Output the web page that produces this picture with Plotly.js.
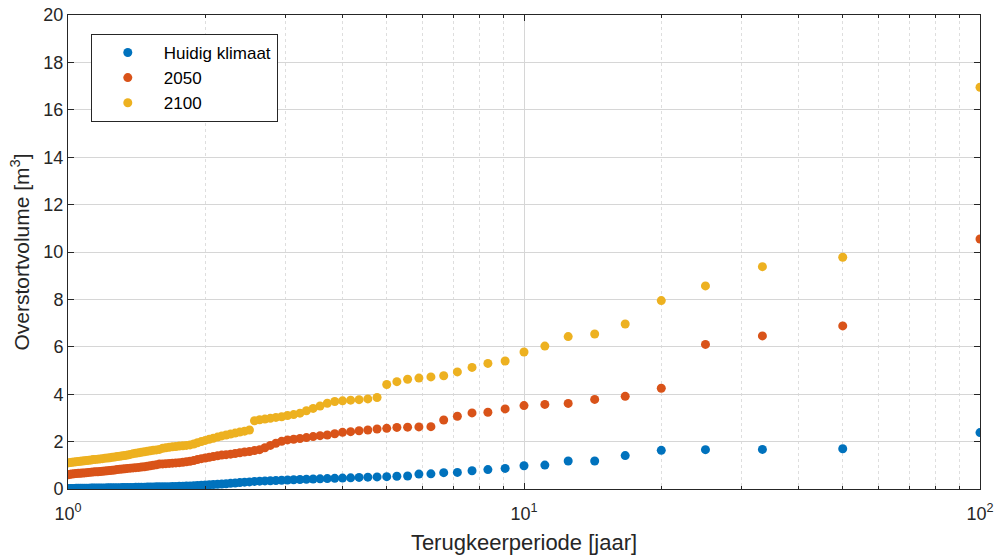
<!DOCTYPE html>
<html>
<head>
<meta charset="utf-8">
<script src="https://cdn.plot.ly/plotly-3.0.1.min.js"></script>
<style>html,body{margin:0;padding:0;background:#fff}#chart{width:996px;height:559px}</style>
</head>
<body>
<div id="chart"></div>
<script>
// Return period T = 100 / rank (rank 1..100), years
const returnPeriod = [100,50,33.33,25,20,16.67,14.29,12.5,11.11,10,
9.091,8.333,7.692,7.143,6.667,6.25,5.882,5.556,5.263,5,
4.762,4.545,4.348,4.167,4,3.846,3.704,3.571,3.448,3.333,
3.226,3.125,3.030,2.941,2.857,2.778,2.703,2.632,2.564,2.5,
2.439,2.381,2.326,2.273,2.222,2.174,2.128,2.083,2.041,2,
1.961,1.923,1.887,1.852,1.818,1.786,1.754,1.724,1.695,1.667,
1.639,1.613,1.587,1.5625,1.538,1.515,1.493,1.471,1.449,1.429,
1.408,1.389,1.370,1.351,1.333,1.316,1.299,1.282,1.266,1.25,
1.235,1.220,1.205,1.190,1.176,1.163,1.149,1.136,1.124,1.111,
1.099,1.087,1.075,1.064,1.053,1.042,1.031,1.020,1.010,1];

const huidig = [2.38,1.70,1.67,1.66,1.63,1.41,1.18,1.18,1.01,0.98,
0.87,0.82,0.77,0.70,0.69,0.64,0.63,0.55,0.54,0.52,
0.51,0.50,0.49,0.47,0.46,0.45,0.44,0.43,0.42,0.41,
0.40,0.39,0.38,0.37,0.36,0.35,0.34,0.33,0.32,0.30,
0.29,0.27,0.25,0.24,0.22,0.21,0.20,0.19,0.18,0.17,
0.16,0.15,0.14,0.13,0.13,0.12,0.12,0.11,0.11,0.10,
0.10,0.09,0.09,0.09,0.08,0.08,0.08,0.07,0.07,0.07,
0.07,0.06,0.06,0.06,0.06,0.06,0.05,0.05,0.05,0.05,
0.05,0.05,0.04,0.04,0.04,0.04,0.04,0.04,0.04,0.03,
0.03,0.03,0.03,0.03,0.03,0.03,0.02,0.02,0.02,0.02];

const klimaat2050 = [10.55,6.88,6.46,6.10,4.25,3.91,3.78,3.61,3.57,3.52,
3.38,3.24,3.21,3.07,2.91,2.63,2.62,2.61,2.60,2.56,
2.53,2.49,2.46,2.42,2.39,2.33,2.28,2.25,2.21,2.17,
2.13,2.10,2.07,2.01,1.93,1.84,1.74,1.66,1.62,1.58,
1.56,1.53,1.50,1.47,1.45,1.43,1.40,1.37,1.34,1.31,
1.28,1.24,1.20,1.17,1.15,1.13,1.11,1.10,1.09,1.08,
1.07,1.06,1.05,1.02,1.00,0.98,0.96,0.94,0.93,0.91,
0.90,0.89,0.88,0.87,0.85,0.84,0.83,0.82,0.80,0.79,
0.78,0.77,0.76,0.75,0.74,0.73,0.73,0.72,0.71,0.70,
0.69,0.68,0.67,0.66,0.66,0.65,0.64,0.63,0.62,0.60];

const klimaat2100 = [16.95,9.78,9.38,8.57,7.95,6.96,6.54,6.43,6.03,5.78,
5.40,5.30,5.13,4.94,4.78,4.73,4.68,4.63,4.53,4.41,
3.86,3.80,3.77,3.75,3.72,3.69,3.62,3.50,3.40,3.30,
3.20,3.14,3.10,3.05,3.02,2.98,2.95,2.92,2.88,2.49,
2.44,2.40,2.36,2.32,2.28,2.24,2.19,2.14,2.10,2.05,
2.00,1.95,1.90,1.86,1.84,1.82,1.81,1.79,1.78,1.76,
1.74,1.72,1.67,1.65,1.63,1.61,1.59,1.57,1.55,1.53,
1.51,1.49,1.46,1.43,1.41,1.40,1.38,1.37,1.35,1.34,
1.32,1.31,1.30,1.28,1.27,1.26,1.25,1.24,1.22,1.21,
1.20,1.19,1.18,1.17,1.16,1.15,1.14,1.13,1.12,1.10];

const seriesNames = ['Huidig klimaat','2050','2100'];
const seriesColors = ['#0072BD','#D95319','#EDB120'];
const xTickVals = [1,10,100];
const xTickText = ['10<sup>0</sup>','10<sup>1</sup>','10<sup>2</sup>'];
const yTickVals = [0,2,4,6,8,10,12,14,16,18,20];

const allSeries = [huidig, klimaat2050, klimaat2100];
const traces = allSeries.map((vals,i)=>({
  type:'scatter', mode:'markers', x:returnPeriod, y:vals, name:seriesNames[i],
  legendgroup:'g'+i,
  marker:{color:seriesColors[i], size:9, line:{width:0}}
}));

const FAM = 'Liberation Sans, Arial, sans-serif';
const axisFont = {family:FAM, size:18, color:'#262626'};
const titleFont = {family:FAM, size:22, color:'#262626'};
const layout = {
  width:996, height:559,
  margin:{l:68, r:16, t:15, b:70},
  paper_bgcolor:'#fff', plot_bgcolor:'#fff',
  showlegend:true,
  legend:{x:0.025, y:0.96, xanchor:'left', yanchor:'top',
    bgcolor:'#fff', bordercolor:'#262626', borderwidth:1,
    font:{family:FAM, size:17, color:'#000'},
    tracegroupgap:0, itemwidth:62},
  xaxis:{type:'log', range:[0,2], tickvals:xTickVals, ticktext:xTickText,
    tickfont:axisFont, ticks:'inside', ticklen:6, tickcolor:'#262626',
    ticklabelstandoff:8,
    showline:true, linecolor:'#262626', linewidth:1, mirror:'allticks',
    showgrid:true, gridcolor:'#d6d6d6', gridwidth:1, zeroline:false,
    minor:{dtick:'D1', showgrid:true, gridcolor:'#dedede', griddash:'dot',
      ticks:'inside', ticklen:3, tickcolor:'#262626'},
    title:{text:'Terugkeerperiode [jaar]', font:titleFont, standoff:12}
  },
  yaxis:{range:[0,20], tickvals:yTickVals, tickfont:axisFont,
    ticks:'inside', ticklen:6, tickcolor:'#262626',
    showline:true, linecolor:'#262626', linewidth:1, mirror:'allticks',
    showgrid:true, gridcolor:'#d6d6d6', gridwidth:1, zeroline:false,
    title:{text:'Overstortvolume [m<sup>3</sup>]', font:{family:FAM, size:21, color:'#262626'}, standoff:8}
  }
};
Plotly.newPlot('chart', traces, layout, {displayModeBar:false, staticPlot:true});
</script>
</body>
</html>
